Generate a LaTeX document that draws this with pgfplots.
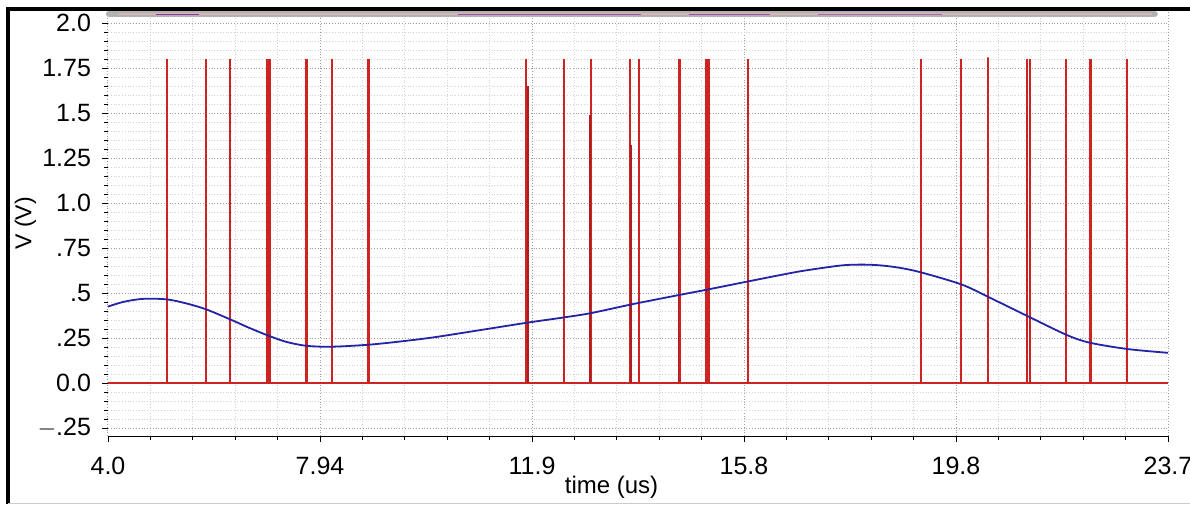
\documentclass[border=0pt]{standalone}
\usepackage{fontspec}
\setmainfont{Liberation Sans}
\usepackage{pgfplots}
\pgfplotsset{compat=1.18}

\definecolor{spikered}{RGB}{205,35,35}
\definecolor{wavblue}{RGB}{35,35,165}

\begin{document}
\begin{tikzpicture}
\path[use as bounding box] (0,0) rectangle (595pt,252pt);
\begin{axis}[at={(54pt,34pt)},anchor=south west,scale only axis,
 width=530pt,height=212.5pt,
 xmin=4,xmax=23.7,ymin=-0.294,ymax=2.067,clip=false,
 axis line style={draw=none},
 xtick={4,7.94,11.88,15.82,19.76,23.7},
 xticklabels={4.0,7.94,11.9,15.8,19.8,23.7},
 ytick={-0.25,0,0.25,0.5,0.75,1,1.25,1.5,1.75,2},
 yticklabels={$-$.25,0.0,.25,.5,.75,1.0,1.25,1.5,1.75,2.0},
 minor x tick num=4,minor y tick num=4,
 xtick pos=bottom,ytick pos=left,tick align=outside,
 major tick length=3pt,minor tick length=2pt,
 tick style={black,thin},
 grid=both,
 major grid style={densely dotted,gray!75,line width=0.5pt},
 minor grid style={densely dotted,gray!35,line width=0.5pt},
 tick label style={font=\fontsize{12.5}{14}\selectfont},
 yticklabel style={anchor=east,xshift=-2pt},
 xticklabel style={anchor=center,yshift=-12pt},
 xlabel={time (us)},ylabel={V (V)},
 xlabel style={font=\fontsize{12}{14}\selectfont,at={(axis description cs:0.475,-0.12)},anchor=center},
 ylabel style={font=\fontsize{11.5}{13}\selectfont,at={(axis description cs:-0.078,0.5)},anchor=center},
]
% bottom axis line
\draw[black,thin] (axis cs:4,-0.294) -- (axis cs:23.7,-0.294);
% clipped trace along the top
\addplot[gray!60,line width=3.2pt,line cap=round] coordinates {(4.02,2.05) (23.45,2.05)};
\addplot[red!30!gray!45,line width=0.7pt] coordinates {(4.2,2.05) (23.4,2.05)};
\addplot[violet!80,line width=0.8pt] coordinates {(4.9,2.048) (5.7,2.048)};
\addplot[violet!70,line width=0.6pt] coordinates {(10.5,2.048) (13.9,2.048)};
\addplot[violet!70,line width=0.6pt] coordinates {(14.8,2.048) (16.3,2.048)};
\addplot[violet!60,line width=0.6pt] coordinates {(17.2,2.048) (19.5,2.048)};

% digital spikes
\addplot[spikered,line width=1.1pt] coordinates {
 (4.0,0) (5.10,0) (5.10,1.8) (5.10,0) (5.82,0) (5.82,1.8) (5.82,0)
 (6.26,0) (6.26,1.8) (6.26,0) (6.95,0) (6.95,1.8) (6.95,0)
 (7.00,0) (7.00,1.8) (7.00,0) (7.69,0) (7.69,1.8) (7.69,0)
 (8.16,0) (8.16,1.8) (8.16,0) (8.84,0) (8.84,1.8) (8.84,0)
 (11.77,0) (11.77,1.8) (11.77,0) (12.48,0) (12.48,1.8) (12.48,0)
 (12.98,0) (12.98,1.8) (12.98,0) (13.70,0) (13.70,1.8) (13.70,0)
 (13.87,0) (13.87,1.8) (13.87,0) (14.62,0) (14.62,1.8) (14.62,0)
 (15.11,0) (15.11,1.8) (15.11,0) (15.16,0) (15.16,1.8) (15.16,0)
 (15.90,0) (15.90,1.8) (15.90,0) (19.11,0) (19.11,1.8) (19.11,0)
 (19.86,0) (19.86,1.8) (19.86,0) (20.36,0) (20.36,1.81) (20.36,0)
 (21.08,0) (21.08,1.8) (21.08,0) (21.13,0) (21.13,1.8) (21.13,0)
 (21.81,0) (21.81,1.8) (21.81,0) (22.26,0) (22.26,1.8) (22.26,0)
 (22.94,0) (22.94,1.8) (22.94,0) (23.7,0)};
\addplot[spikered!85!black,line width=1pt] coordinates {(11.80,0) (11.80,1.65)};
\addplot[spikered!85!black,line width=0.8pt] coordinates {(12.96,0) (12.96,1.49)};
\addplot[spikered!85!black,line width=1pt] coordinates {(13.72,0) (13.72,1.32)};
\addplot[spikered!85!black,line width=0.8pt] coordinates {(14.60,0) (14.60,1.03)};
\addplot[spikered,line width=1.6pt] coordinates {(6.97,0) (6.97,0.07)};

% analog waveform
\addplot[wavblue,line width=0.9pt,smooth] coordinates {
 (4.0,0.425) (4.3,0.452) (4.66,0.468) (5.09,0.465) (5.45,0.443) (5.82,0.41)
 (6.27,0.354) (6.6,0.31) (6.95,0.267) (7.3,0.23) (7.69,0.207) (8.16,0.202)
 (8.84,0.213) (9.4,0.23) (10.05,0.254) (10.91,0.294) (11.78,0.335) (12.48,0.365)
 (12.98,0.389) (13.76,0.439) (14.61,0.489) (15.15,0.52) (15.90,0.565) (16.81,0.618)
 (17.43,0.646) (17.73,0.656) (18.05,0.658) (18.35,0.654) (18.7,0.641) (19.11,0.615) (19.86,0.548)
 (20.35,0.48) (21.09,0.372) (21.82,0.267) (22.25,0.224) (22.95,0.189) (23.7,0.168)};
\end{axis}
% outer frame
\draw[black,line width=1.8pt] (4pt,0pt) -- (4pt,247.5pt) -- (595pt,247.5pt);
\draw[gray!40,line width=0.6pt] (4pt,0.4pt) -- (595pt,0.4pt);
\end{tikzpicture}
\end{document}
